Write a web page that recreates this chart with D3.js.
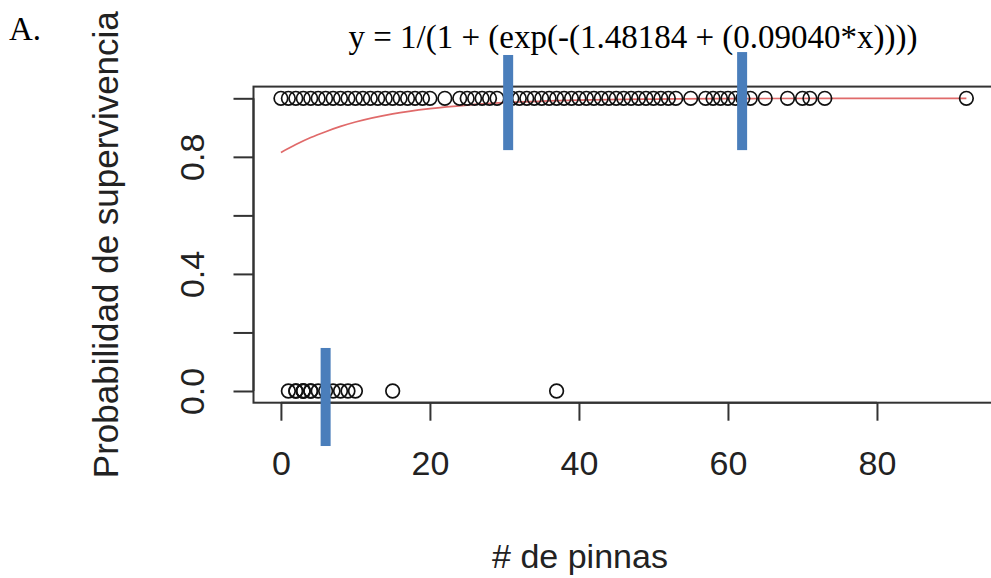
<!DOCTYPE html>
<meta charset="utf-8">
<style>
body { margin: 0; background: #fff; }
svg { display: block; }
.axis-txt { font-family: "Liberation Sans", Arial, sans-serif; font-size: 34px; fill: #222; }
.serif { font-family: "Liberation Serif", "Times New Roman", serif; fill: #000; }
</style>
<body>
<svg width="991" height="578"></svg>
<script src="https://cdn.jsdelivr.net/npm/d3@7"></script>
<script>

// data
// pinnas of plants that survived (y = 1)
var survivedX = [0,1,2,3,4,5,6,7,8,9,10,11,12,13,14,15,16,17,18,19,20,22,24,25,26,27,28,29,
  31,32,33,34,35,36,37,38,39,40,41,42,43,44,45,46,47,48,49,50,51,52,53,55,57,58,59,60,61,62,
  63,65,68,70,71,73,92];
// pinnas of plants that died (y = 0)
var deadX = [1,2,2,3,3,3,4,4,5,6,7,8,9,10,15,37];
// fitted logistic curve, read at a few x
var curveX = [0,2,4,6,8,10,15,20,25,30,40,50,60,75,92];
var curveY = [0.815,0.842,0.866,0.886,0.904,0.919,0.947,0.965,0.977,0.985,0.994,0.9975,0.999,0.9997,1.0];
// axis ticks
var xTicks = [0,20,40,60,80];
var yTicks = [0,0.2,0.4,0.6,0.8,1.0];
var yTickLabels = ["0.0","","0.4","","0.8",""];
// blue marker bars drawn over the figure: x position, y top, y bottom (data units)
var markX = [30.5, 61.9, 6.0];
var markTop = [1.148, 1.158, 0.147];
var markBottom = [0.823, 0.823, -0.188];

var svg = d3.select("svg");

var x = d3.scaleLinear().domain([-3.68, 95.68]).range([253.5, 993.8]);
var y = d3.scaleLinear().domain([-0.04, 1.04]).range([402.7, 86.6]);

// box
svg.append("rect")
    .attr("x", x.range()[0]).attr("y", y.range()[1])
    .attr("width", x.range()[1] - x.range()[0])
    .attr("height", y.range()[0] - y.range()[1])
    .attr("fill", "none").attr("stroke", "#333").attr("stroke-width", 2);

// x axis
var xAxis = svg.append("g")
    .attr("transform", "translate(0," + y.range()[0] + ")")
    .call(d3.axisBottom(x).tickValues(xTicks).tickSize(18).tickFormat(d3.format("d")));
xAxis.select(".domain").attr("d", "M" + x(0) + ",0H" + x(80)).attr("stroke", "#333").attr("stroke-width", 2);
xAxis.selectAll(".tick line").attr("stroke", "#333").attr("stroke-width", 2);
xAxis.selectAll("text").attr("class", "axis-txt").attr("dy", null).attr("y", 72);

// y axis
var yAxis = svg.append("g")
    .attr("transform", "translate(" + x.range()[0] + ",0)")
    .call(d3.axisLeft(y).tickValues(yTicks).tickSize(20).tickFormat(function(d, i) { return yTickLabels[i]; }));
yAxis.select(".domain").attr("d", "M0," + y(0) + "V" + y(1)).attr("stroke", "#333").attr("stroke-width", 2);
yAxis.selectAll(".tick line").attr("stroke", "#333").attr("stroke-width", 2);
yAxis.selectAll("text")
    .attr("class", "axis-txt")
    .attr("x", null).attr("dy", null)
    .attr("text-anchor", "middle")
    .attr("transform", "translate(-50,0) rotate(-90)")
    .attr("y", 0);

// fitted curve
svg.append("path")
    .datum(curveX.map(function(d, i) { return [d, curveY[i]]; }))
    .attr("fill", "none")
    .attr("stroke", "#e06a6a")
    .attr("stroke-width", 1.7)
    .attr("d", d3.line().x(function(d) { return x(d[0]); }).y(function(d) { return y(d[1]); }).curve(d3.curveMonotoneX));

// points
svg.append("g").selectAll("circle")
    .data(survivedX.map(function(d) { return [d, 1]; }).concat(deadX.map(function(d) { return [d, 0]; })))
    .enter().append("circle")
    .attr("cx", function(d) { return x(d[0]); })
    .attr("cy", function(d) { return y(d[1]); })
    .attr("r", 6.8)
    .attr("fill", "none")
    .attr("stroke", "#111")
    .attr("stroke-width", 1.7);

// axis titles
svg.append("text")
    .attr("class", "axis-txt")
    .attr("font-size", 35)
    .style("font-size", "35px")
    .attr("text-anchor", "middle")
    .attr("transform", "translate(118," + ((y.range()[0] + y.range()[1]) / 2) + ") rotate(-90)")
    .text("Probabilidad de supervivencia");

svg.append("text")
    .attr("class", "axis-txt")
    .attr("text-anchor", "middle")
    .attr("x", 580).attr("y", 568)
    .text("# de pinnas");

// panel letter and equation
svg.append("text")
    .attr("class", "serif")
    .attr("x", 9).attr("y", 40)
    .attr("font-size", 33)
    .text("A.");

svg.append("text")
    .attr("class", "serif")
    .attr("x", 633).attr("y", 48)
    .attr("text-anchor", "middle")
    .attr("font-size", 33)
    .text("y = 1/(1 + (exp(-(1.48184 + (0.09040*x))))");

// blue markers
svg.append("g").selectAll("rect")
    .data(markX)
    .enter().append("rect")
    .attr("x", function(d) { return x(d) - 5; })
    .attr("width", 10)
    .attr("y", function(d, i) { return y(markTop[i]); })
    .attr("height", function(d, i) { return y(markBottom[i]) - y(markTop[i]); })
    .attr("fill", "#4a7ebb");

</script>
</body>
